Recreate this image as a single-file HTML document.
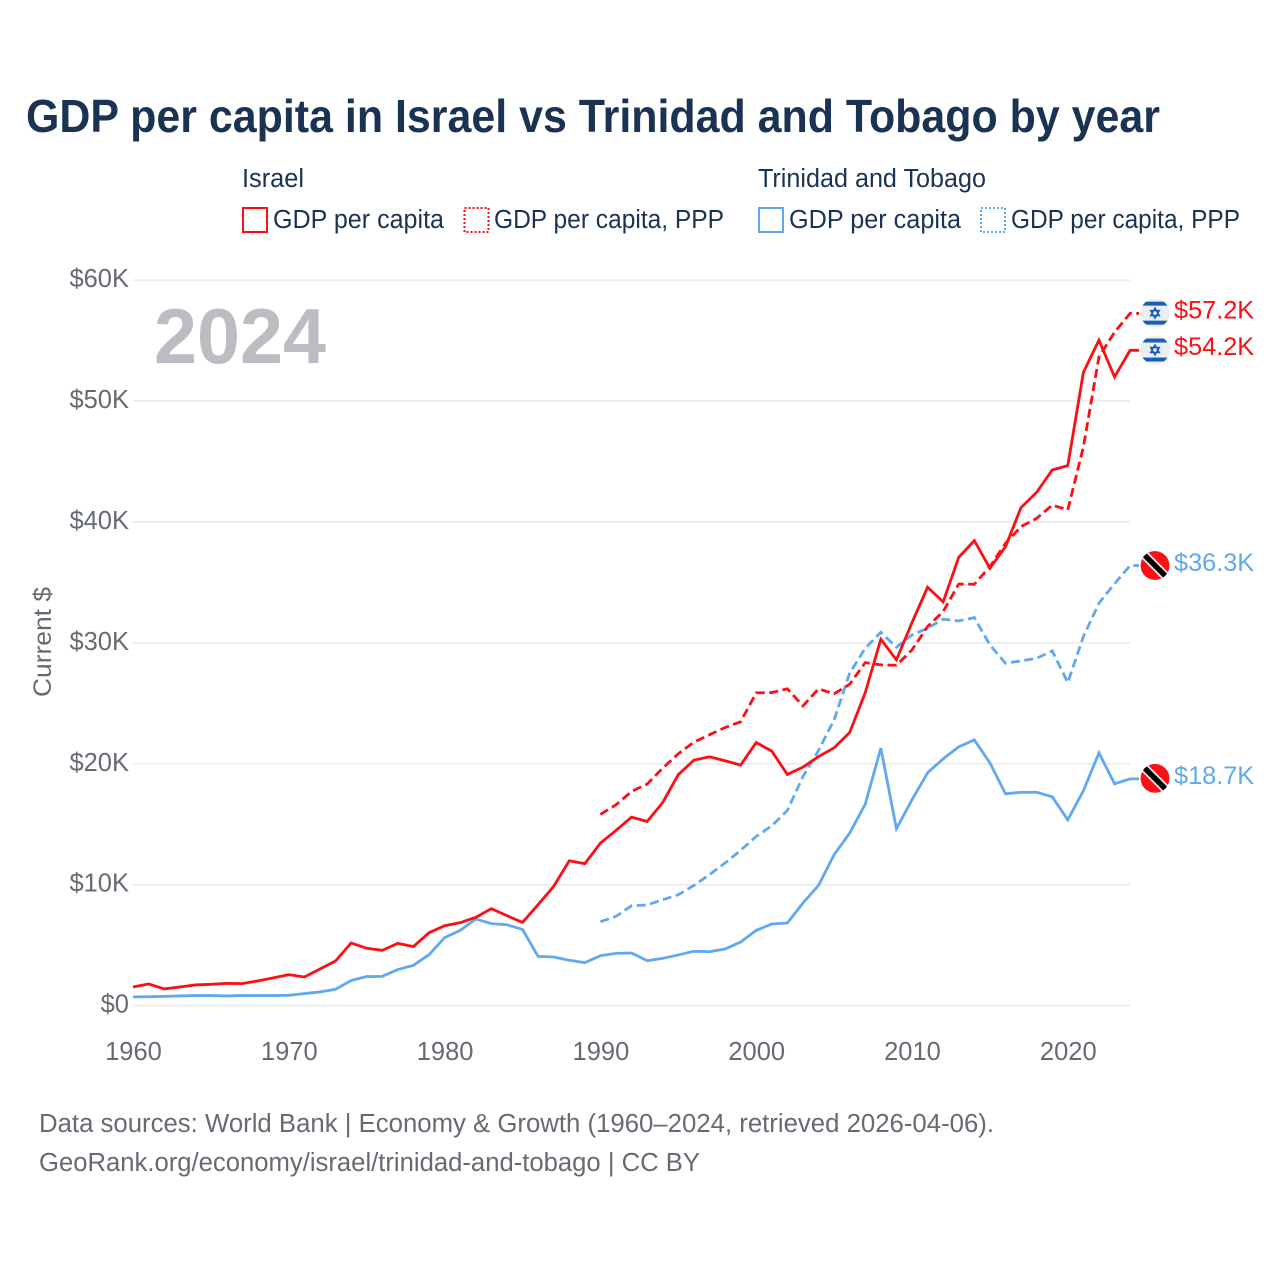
<!DOCTYPE html>
<html lang="en">
<head>
<meta charset="utf-8">
<title>GDP per capita in Israel vs Trinidad and Tobago by year</title>
<style>
html,body{margin:0;padding:0;background:#fff;}
svg{display:block;}
text{font-family:"Liberation Sans",sans-serif;}
</style>
</head>
<body>
<svg id="chart" xmlns="http://www.w3.org/2000/svg" width="1280" height="1280" viewBox="0 0 1280 1280">
  <defs>
    <clipPath id="flag-clip"><circle cx="0" cy="0" r="14.5"/></clipPath>
  </defs>
  <rect x="0" y="0" width="1280" height="1280" fill="#ffffff"/>
  <text x="26" y="132" font-size="46" font-weight="700" fill="#1a3353" textLength="1134" lengthAdjust="spacingAndGlyphs">GDP per capita in Israel vs Trinidad and Tobago by year</text>

  <g font-size="25.5" fill="#1a3353">
    <text x="242" y="187" textLength="62" lengthAdjust="spacingAndGlyphs">Israel</text>
    <g>
      <rect x="243" y="208" width="24" height="24" fill="none" stroke="#ff0d12" stroke-width="2"/>
      <text x="273" y="228" textLength="171" lengthAdjust="spacingAndGlyphs">GDP per capita</text>
    </g>
    <g>
      <rect x="464.500" y="208" width="24" height="24" fill="none" stroke="#ff0d12" stroke-width="2" stroke-dasharray="2 2"/>
      <text x="494" y="228" textLength="230" lengthAdjust="spacingAndGlyphs">GDP per capita, PPP</text>
    </g>
    <text x="758" y="187" textLength="228" lengthAdjust="spacingAndGlyphs">Trinidad and Tobago</text>
    <g>
      <rect x="759" y="208" width="24" height="24" fill="none" stroke="#60a8f0" stroke-width="2"/>
      <text x="789" y="228" textLength="172" lengthAdjust="spacingAndGlyphs">GDP per capita</text>
    </g>
    <g>
      <rect x="981" y="208" width="24" height="24" fill="none" stroke="#60a8f0" stroke-width="2" stroke-dasharray="2 2"/>
      <text x="1011" y="228" textLength="229" lengthAdjust="spacingAndGlyphs">GDP per capita, PPP</text>
    </g>
  </g>

  <g id="grid"></g>
  <g id="yticks"></g>
  <g id="xticks"></g>

  <text transform="translate(51,697) rotate(-90)" font-size="25" fill="#666b73" textLength="110" lengthAdjust="spacingAndGlyphs">Current $</text>
  <text x="154" y="363" font-size="78" font-weight="700" fill="#bcbdc2" textLength="172" lengthAdjust="spacingAndGlyphs">2024</text>

  <g id="series"></g>
  <g id="ends"></g>

  <text x="39" y="1132" font-size="25.500" fill="#666b73" textLength="955" lengthAdjust="spacingAndGlyphs">Data sources: World Bank | Economy &amp; Growth (1960–2024, retrieved 2026-04-06).</text>
  <text x="39" y="1171" font-size="25.500" fill="#666b73" textLength="661" lengthAdjust="spacingAndGlyphs">GeoRank.org/economy/israel/trinidad-and-tobago | CC BY</text>
</svg>

<script>
const yTickValues = [0, 10, 20, 30, 40, 50, 60];
const yTickLabels = ["$0", "$10K", "$20K", "$30K", "$40K", "$50K", "$60K"];
const xTickYears = [1960, 1970, 1980, 1990, 2000, 2010, 2020];
const gdpStartYear = 1960;
const pppStartYear = 1990;

const israelGdp = [1.54,1.79,1.38,1.54,1.71,1.76,1.84,1.82,2.04,2.29,2.56,2.37,3.03,3.69,5.18,4.74,4.57,5.15,4.88,6.03,6.61,6.86,7.30,8.02,7.44,6.88,8.35,9.86,11.98,11.74,13.44,14.49,15.59,15.23,16.80,19.10,20.30,20.58,20.25,19.89,21.76,21.05,19.12,19.72,20.60,21.32,22.59,25.89,30.30,28.60,31.68,34.60,33.39,37.08,38.46,36.17,37.96,41.20,42.45,44.30,44.66,52.37,55.04,52.00,54.20];
const israelPpp = [15.81,16.61,17.71,18.32,19.64,20.83,21.79,22.40,23.00,23.47,25.87,25.89,26.20,24.79,26.20,25.79,26.58,28.37,28.18,28.15,29.42,31.35,32.59,34.87,34.85,36.31,38.23,39.62,40.30,41.40,41.00,46.20,53.66,55.70,57.25];
const trinidadGdp = [0.72,0.73,0.76,0.80,0.83,0.83,0.80,0.83,0.83,0.83,0.85,0.99,1.13,1.35,2.07,2.40,2.42,2.98,3.33,4.21,5.62,6.22,7.16,6.78,6.69,6.30,4.07,4.02,3.75,3.55,4.13,4.32,4.35,3.72,3.91,4.19,4.49,4.46,4.68,5.26,6.22,6.75,6.83,8.48,9.94,12.48,14.27,16.67,21.30,14.63,17.02,19.26,20.41,21.40,21.98,20.08,17.52,17.64,17.64,17.27,15.37,17.77,20.90,18.35,18.75];
const trinidadPpp = [6.94,7.38,8.26,8.32,8.76,9.17,9.94,10.83,11.79,12.84,13.99,14.87,16.14,18.95,21.10,23.64,27.50,29.56,30.88,29.64,30.66,31.21,31.96,31.82,32.09,29.83,28.32,28.51,28.73,29.34,26.72,30.52,33.28,34.90,36.40];
const endLabels = ["$57.2K", "$54.2K", "$36.3K", "$18.7K"];

const NS = "http://www.w3.org/2000/svg";
const RED = "#ff0d12";
const BLUE = "#60a8f0";
const GREY = "#666b73";

function xScale(year) { return 133 + (year - 1960) * 15.58; }
function yScale(value) { return 1005.6 - value * 12.09; }
function make(tag, parent) {
  const el = document.createElementNS(NS, tag);
  parent.appendChild(el);
  return el;
}

const grid = document.getElementById("grid");
const yticks = document.getElementById("yticks");
yTickValues.forEach(function (v, i) {
  const line = make("line", grid);
  
  
  line.setAttribute("x1", xScale(1960));
  line.setAttribute("x2", xScale(2024));
  line.setAttribute("y1", yScale(v));
  line.setAttribute("y2", yScale(v));
  line.setAttribute("stroke", "#eeeeee");
  line.setAttribute("stroke-width", "2");
  const t = make("text", yticks);
  
  
  t.setAttribute("x", 129);
  t.setAttribute("y", yScale(v) + 7);
  t.setAttribute("text-anchor", "end");
  t.setAttribute("font-size", "25.5");
  t.setAttribute("fill", GREY);
  t.textContent = yTickLabels[i];
});

const xticks = document.getElementById("xticks");
xTickYears.forEach(function (year) {
  const t = make("text", xticks);
  
  
  t.setAttribute("x", xScale(year) + 0.5);
  t.setAttribute("y", 1060);
  t.setAttribute("text-anchor", "middle");
  t.setAttribute("font-size", "25.5");
  t.setAttribute("fill", GREY);
  t.textContent = String(year);
});

function linePath(values, startYear) {
  let d = "";
  values.forEach(function (v, i) {
    d += (i ? "L" : "M") + xScale(startYear + i).toFixed(2) + " " + yScale(v).toFixed(2);
  });
  d += "L1139 " + yScale(values[values.length - 1]).toFixed(2);
  return d;
}

const seriesGroup = document.getElementById("series");

const lineTrinidadGdp = make("path", seriesGroup);


lineTrinidadGdp.setAttribute("d", linePath(trinidadGdp, gdpStartYear));
lineTrinidadGdp.setAttribute("stroke", BLUE);

const lineTrinidadPpp = make("path", seriesGroup);


lineTrinidadPpp.setAttribute("d", linePath(trinidadPpp, pppStartYear));
lineTrinidadPpp.setAttribute("stroke", BLUE);
lineTrinidadPpp.setAttribute("stroke-dasharray", "9 4.5");

const lineIsraelGdp = make("path", seriesGroup);


lineIsraelGdp.setAttribute("d", linePath(israelGdp, gdpStartYear));
lineIsraelGdp.setAttribute("stroke", RED);

const lineIsraelPpp = make("path", seriesGroup);


lineIsraelPpp.setAttribute("d", linePath(israelPpp, pppStartYear));
lineIsraelPpp.setAttribute("stroke", RED);
lineIsraelPpp.setAttribute("stroke-dasharray", "9 4.5");

[lineTrinidadGdp, lineTrinidadPpp, lineIsraelGdp, lineIsraelPpp].forEach(function (p) {
  p.setAttribute("fill", "none");
  p.setAttribute("stroke-width", "2.8");
});

const ends = document.getElementById("ends");

function israelFlag(y) {
  const g = make("g", ends);
  
  
  g.setAttribute("transform", "translate(1155," + y + ")");
  g.setAttribute("clip-path", "url(#flag-clip)");
  const bg = make("rect", g);
  bg.setAttribute("x", -15);
  bg.setAttribute("y", -15);
  bg.setAttribute("width", 30);
  bg.setAttribute("height", 30);
  bg.setAttribute("fill", "#eeeeee");
  const top = make("rect", g);
  top.setAttribute("x", -15);
  top.setAttribute("y", -11.5);
  top.setAttribute("width", 30);
  top.setAttribute("height", 4);
  top.setAttribute("fill", "#1560bd");
  const bottom = make("rect", g);
  bottom.setAttribute("x", -15);
  bottom.setAttribute("y", 7.5);
  bottom.setAttribute("width", 30);
  bottom.setAttribute("height", 4);
  bottom.setAttribute("fill", "#1560bd");
  const star = make("path", g);
  star.setAttribute("d", "M0 -5L4.3 2.5L-4.3 2.5ZM0 5L-4.3 -2.500L4.3 -2.500Z");
  star.setAttribute("fill", "none");
  star.setAttribute("stroke", "#1560bd");
  star.setAttribute("stroke-width", "1.5");
}

function trinidadFlag(y) {
  const g = make("g", ends);
  
  
  g.setAttribute("transform", "translate(1155," + y + ")");
  g.setAttribute("clip-path", "url(#flag-clip)");
  const bg = make("circle", g);
  bg.setAttribute("r", 14.5);
  bg.setAttribute("fill", "#ff1016");
  const white = make("line", g);
  white.setAttribute("x1", -11);
  white.setAttribute("y1", -11);
  white.setAttribute("x2", 11);
  white.setAttribute("y2", 11);
  white.setAttribute("stroke", "#eeeeee");
  white.setAttribute("stroke-width", "9");
  const black = make("line", g);
  black.setAttribute("x1", -11);
  black.setAttribute("y1", -11);
  black.setAttribute("x2", 11);
  black.setAttribute("y2", 11);
  black.setAttribute("stroke", "#000000");
  black.setAttribute("stroke-width", "5.5");
}

function endLabel(text, y, color) {
  const t = make("text", ends);
  
  
  t.setAttribute("x", 1174);
  t.setAttribute("y", y);
  t.setAttribute("font-size", "25.3");
  t.setAttribute("fill", color);
  t.textContent = text;
}

const endPpp = yScale(israelPpp[israelPpp.length - 1]);
israelFlag(endPpp - 0.3);
endLabel(endLabels[0], endPpp + 5, RED);
const endGdp = yScale(israelGdp[israelGdp.length - 1]);
israelFlag(endGdp - 0.3);
endLabel(endLabels[1], endGdp + 4.5, RED);
const endTtPpp = yScale(trinidadPpp[trinidadPpp.length - 1]);
trinidadFlag(endTtPpp);
endLabel(endLabels[2], endTtPpp + 5.5, BLUE);
const endTtGdp = yScale(trinidadGdp[trinidadGdp.length - 1]);
trinidadFlag(endTtGdp - 0.5);
endLabel(endLabels[3], endTtGdp + 5, BLUE);
</script>
</body>
</html>
